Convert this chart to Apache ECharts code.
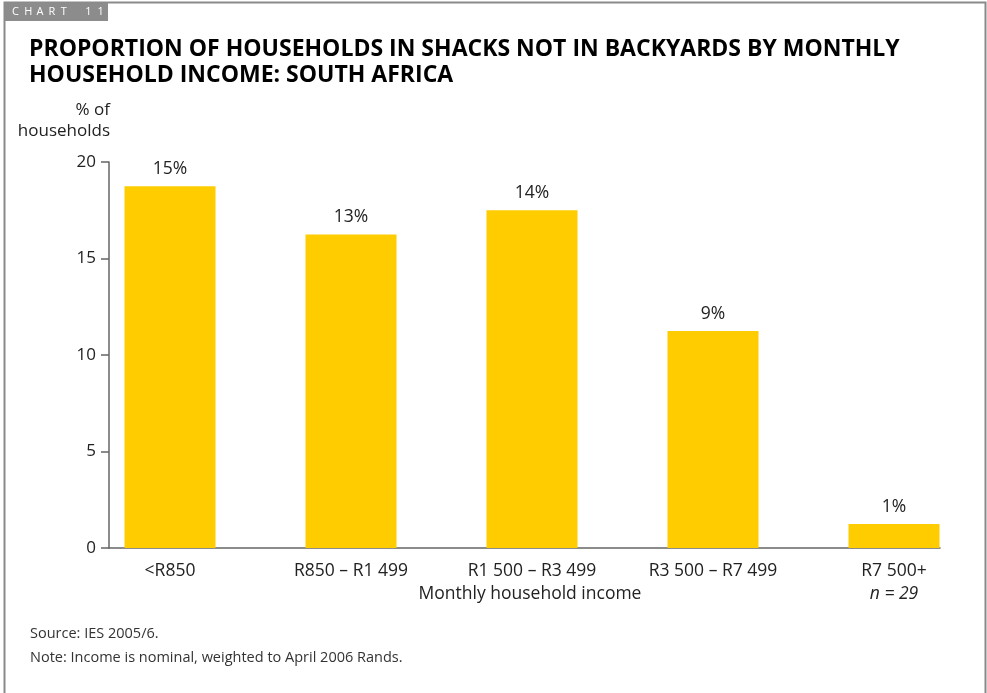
<!DOCTYPE html>
<html>
<head>
<meta charset="utf-8">
<script src="https://cdn.jsdelivr.net/npm/echarts@6/dist/echarts.min.js"></script>
<style>
  html, body { margin: 0; padding: 0; background: #fff; }
  #chart { width: 987px; height: 693px; }
</style>
</head>
<body>
<div id="chart"></div>
<script>
// Income bands and share of households (%) living in shacks not in backyards
const categories = ['<R850', 'R850 – R1 499', 'R1 500 – R3 499', 'R3 500 – R7 499', 'R7 500+'];
const shares = [15, 13, 14, 9, 1];
const tickLabels = ['0', '5', '10', '15', '20'];
const lastNote = 'n = 29';

const FONT = '"Open Sans", "Noto Sans", sans-serif';
const INK = '#222';

const chart = echarts.init(document.getElementById('chart'), null, { renderer: 'canvas' });

// spaced-out tab caption
const caption = 'CHART 11';
const captionEls = caption.split('').map((ch, i) => ({
  type: 'text', x: 12 + i * 12.2, y: 6,
  style: { text: ch, fill: '#fff', font: '11px ' + FONT }
}));

chart.setOption({
  animation: false,
  backgroundColor: '#fff',
  textStyle: { fontFamily: FONT },
  grid: [
    // axis frame
    { left: 109, top: 162, width: 831, height: 386 },
    // bars
    { left: 79.5, top: 162, width: 905, height: 386 }
  ],
  xAxis: [
    {
      gridIndex: 0, type: 'value', min: 0, max: 1,
      axisLine: { show: true, lineStyle: { color: '#666', width: 1.5 } },
      axisTick: { show: false }, axisLabel: { show: false }, splitLine: { show: false }
    },
    {
      gridIndex: 1, type: 'category', data: categories,
      axisLine: { show: false }, axisTick: { show: false },
      axisLabel: {
        margin: 12, fontSize: 17.5, color: INK, fontFamily: FONT, lineHeight: 23,
        formatter: (v, i) => i === categories.length - 1 ? v + '\n{i|' + lastNote + '}' : v,
        rich: { i: { fontStyle: 'italic', fontSize: 17.5, color: INK, fontFamily: FONT, lineHeight: 23 } }
      }
    }
  ],
  yAxis: [
    {
      gridIndex: 0, type: 'value', min: 0, max: 20, interval: 5,
      axisLine: { show: true, lineStyle: { color: '#666', width: 1.5 } },
      axisTick: { show: true, length: 8, lineStyle: { color: '#666', width: 1.5 } },
      axisLabel: {
        fontSize: 17, color: INK, fontFamily: FONT, margin: 13,
        formatter: (v) => tickLabels[Math.round(v / 5)]
      },
      splitLine: { show: false }
    },
    {
      gridIndex: 1, type: 'value', min: 0, max: 16,
      show: false, splitLine: { show: false }
    }
  ],
  series: [
    {
      type: 'bar', xAxisIndex: 1, yAxisIndex: 1,
      data: shares, barWidth: 91,
      itemStyle: { color: '#FFCC00' },
      label: {
        show: true, position: 'top', distance: 8,
        fontSize: 17.5, color: INK, fontFamily: FONT,
        formatter: (p) => p.value + '%'
      }
    }
  ],
  graphic: [
    // outer frame (open at the bottom)
    { type: 'rect', shape: { x: 4.5, y: 2.5, width: 981, height: 760 },
      style: { fill: 'none', stroke: '#8a8a8a', lineWidth: 2 }, silent: true },
    { type: 'rect', shape: { x: 5, y: 3, width: 103, height: 18 },
      style: { fill: '#8c8c8c' }, silent: true },
    ...captionEls,
    { type: 'text', x: 29, y: 36,
      style: { text: 'PROPORTION OF HOUSEHOLDS IN SHACKS NOT IN BACKYARDS BY MONTHLY\nHOUSEHOLD INCOME: SOUTH AFRICA',
               fill: '#000', font: 'bold 23px ' + FONT, lineHeight: 26 } },
    { type: 'text', x: 110, y: 100,
      style: { text: '% of\nhouseholds', fill: INK, font: '17px ' + FONT, lineHeight: 21, align: 'right' } },
    { type: 'text', x: 530, y: 585,
      style: { text: 'Monthly household income', fill: INK, font: '17.5px ' + FONT, align: 'center' } },
    { type: 'text', x: 30, y: 622,
      style: { text: 'Source: IES 2005/6.\nNote: Income is nominal, weighted to April 2006 Rands.',
               fill: '#333', font: '14.5px ' + FONT, lineHeight: 24 } }
  ]
});
</script>
</body>
</html>
